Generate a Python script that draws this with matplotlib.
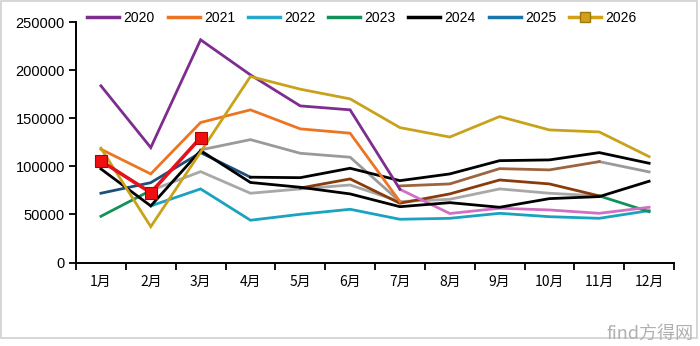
import numpy as np
import matplotlib
matplotlib.use("Agg")
import matplotlib.pyplot as plt
from matplotlib.lines import Line2D
from matplotlib.patches import Rectangle

nan = np.nan
months = ['1月', '2月', '3月', '4月', '5月', '6月', '7月', '8月', '9月', '10月', '11月', '12月']
yticks = [0, 50000, 100000, 150000, 200000, 250000]
years = ['2020', '2021', '2022', '2023', '2024', '2025', '2026']

# line segments (units), nan = no line there
purple = [183900, 119600, 231800, 195300, 163000, 158900, 76200, nan, nan, nan, nan, nan]
pink = [nan, nan, nan, nan, nan, nan, 76200, 51000, 56500, 54700, 51200, 57500]
orange = [117900, 92200, 145700, 158900, 139100, 134600, 63400, nan, nan, nan, nan, nan]
gold = [119000, 37300, 115000, 193600, 180400, 170300, 140400, 130600, 151900, 138000, 135900, 110200]
red = [105700, 72700, 130000, nan, nan, nan, nan, nan, nan, nan, nan, nan]
black_a = [97400, 58900, 116500, 83300, 78300, 71400, 58100, 62300, 57500, 66500, 68600, 84600]
black_b = [nan, nan, nan, 88800, 88300, 98100, 85200, 92200, 106000, 106800, 114400, 103300]
dark_blue = [72100, 83100, 114400, 88800, nan, nan, nan, nan, nan, nan, nan, nan]
cyan = [nan, 58900, 76600, 44000, 50200, 55400, 45000, 46000, 51200, 47700, 46000, 54000]
green = [48100, 75000, nan, nan, nan, nan, nan, nan, nan, nan, 69300, 52900]
gray_up = [nan, nan, 117200, 127900, 113700, 109600, 63400, nan, nan, nan, nan, nan]
gray_low = [nan, 75000, 94600, 72100, 76600, 80700, 63400, nan, nan, nan, nan, nan]
gray_late = [nan, nan, nan, nan, nan, nan, 63400, 65800, 76600, 72100, 69300, nan]
gray_dec = [nan, nan, nan, nan, nan, nan, nan, nan, nan, nan, 105000, 94300]
brown_light = [nan, nan, nan, nan, nan, nan, 79700, 81800, 97700, 96400, 105000, nan]
brown_dark = [nan, nan, nan, nan, 77500, 87000, 61700, 71400, 85900, 81800, 69300, nan]

fig = plt.figure(figsize=(7, 3.46), dpi=100)
ax = fig.add_axes([0.1086, 0.2413, 0.8543, 0.6942])
x = np.arange(len(months))

lw = 2.0
segs = [
    (gray_up, '#9a9a9a'), (gray_low, '#a8a8a8'), (gray_late, '#a8a8a8'), (gray_dec, '#9a9a9a'),
    (brown_light, '#9c6440'), (brown_dark, '#8a3b0c'),
    (cyan, '#1aa3be'), (green, '#13915a'), (pink, '#d070c4'),
    (dark_blue, '#1d4f7c'), (black_a, 'black'), (black_b, 'black'),
    (orange, '#ec7524'), (purple, '#7d2d8e'), (gold, '#c9a21c'),
]
for vals, c in segs:
    ax.plot(x, vals, color=c, lw=lw, solid_joinstyle='miter')
ax.plot(x, red, color='#e4121b', lw=2.6, marker='s', ms=8,
        mfc='#ee1010', mec='#b00000', mew=0.8, zorder=5)

ax.set_xlim(-0.5, 11.5)
ax.set_ylim(0, 250000)
ax.set_yticks(yticks)
ax.set_yticklabels([str(v) for v in yticks], fontsize=10.5, family=['Liberation Sans', 'DejaVu Sans'])
ax.set_xticks(x)
ax.set_xticklabels(months, fontsize=10, family=['Noto Sans CJK SC', 'DejaVu Sans'])
ax.set_xticks(np.arange(-0.5, 12, 1), minor=True)
ax.tick_params(axis='x', which='major', length=0, pad=9)
ax.tick_params(axis='x', which='minor', length=5, width=1.3, direction='out')
ax.tick_params(axis='y', length=5, width=1.3, direction='out', pad=3)
for s in ['top', 'right']:
    ax.spines[s].set_visible(False)
for s in ['left', 'bottom']:
    ax.spines[s].set_linewidth(1.4)

legend_colors = ['#7d2d8e', '#ec7524', '#2aa8c8', '#13915a', 'black', '#1a75a8', '#d4a017']
handles = []
for i, c in enumerate(legend_colors):
    if i == 6:
        handles.append(Line2D([], [], color=c, lw=2.5, marker='s', ms=7, mfc=c, mec='#9a7a10'))
    else:
        handles.append(Line2D([], [], color=c, lw=2.5))
fig.legend(handles, years, loc='center', bbox_to_anchor=(0.517, 0.949), ncol=7,
           frameon=False, handlelength=2.3, handletextpad=0.3, columnspacing=0.93,
           borderaxespad=0, prop={'family': ['Liberation Sans', 'DejaVu Sans'], 'size': 10})

fig.patches.append(Rectangle((0.002, 0.024), 0.994, 0.973, transform=fig.transFigure,
                             fill=False, edgecolor='#cfcfcf', lw=1.2))
fig.text(0.99, 0.035, 'find方得网', ha='right', va='center', fontsize=13, color='#b0b0b0',
         family=['Noto Sans CJK SC', 'DejaVu Sans'])

fig.savefig('out.png', dpi=100)
